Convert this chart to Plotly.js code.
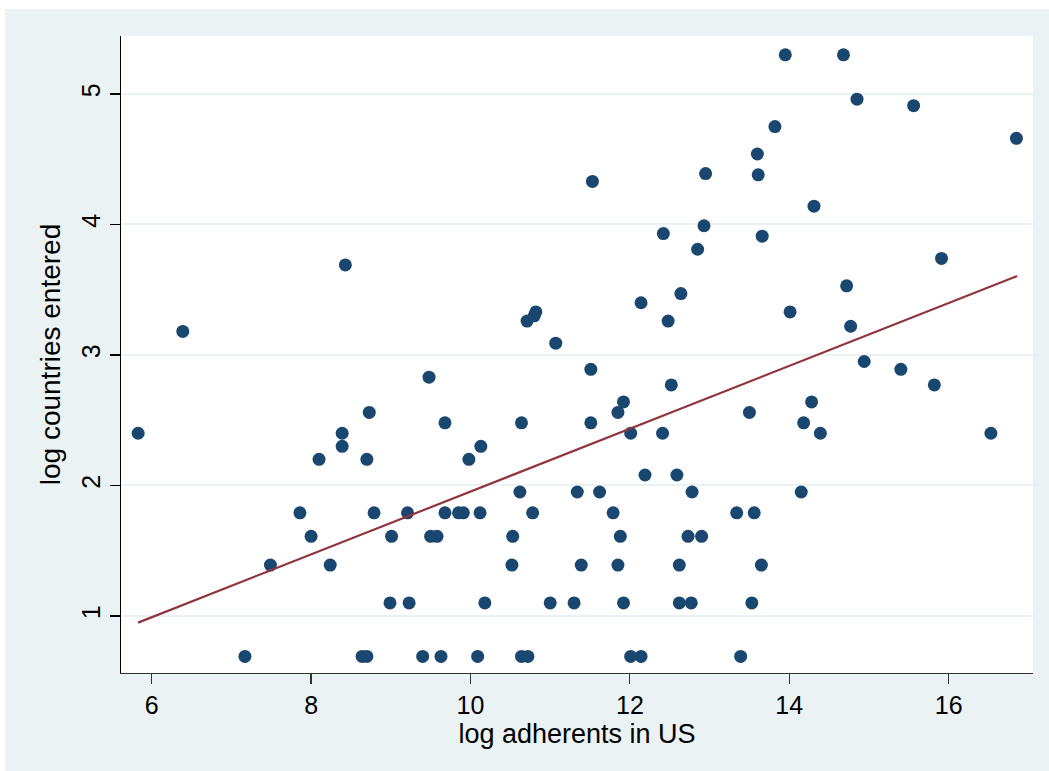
<!DOCTYPE html>
<html>
<head>
<meta charset="utf-8">
<script src="https://cdn.plot.ly/plotly-3.0.1.min.js"></script>
<style>
  html, body { margin: 0; padding: 0; background: #ffffff; width: 1049px; height: 771px; overflow: hidden; }
  #chart { position: absolute; left: 5px; top: 9px; width: 1044px; height: 762px; }
</style>
</head>
<body>
<div id="chart"></div>
<script>
// log adherents in US
const adherentsLog = [
  5.83, 6.39, 7.17, 7.49, 7.86, 8.00, 8.10, 8.24, 8.39, 8.39,
  8.43, 8.64, 8.70, 8.70, 8.73, 8.79, 8.99, 9.01, 9.21, 9.23,
  9.40, 9.48, 9.50, 9.58, 9.63, 9.68, 9.68, 9.85, 9.91, 9.98,
  10.09, 10.12, 10.13, 10.18, 10.52, 10.53, 10.62, 10.64, 10.64, 10.72,
  10.71, 10.78, 10.80, 10.82, 11.00, 11.07, 11.30, 11.34, 11.39, 11.51,
  11.51, 11.53, 11.62, 11.79, 11.85, 11.85, 11.88, 11.92, 11.92, 12.01,
  12.01, 12.14, 12.14, 12.19, 12.41, 12.42, 12.48, 12.52, 12.59, 12.62,
  12.62, 12.64, 12.73, 12.77, 12.78, 12.85, 12.90, 12.93, 12.95, 13.34,
  13.39, 13.50, 13.53, 13.56, 13.60, 13.61, 13.65, 13.66, 13.82, 13.95,
  14.01, 14.15, 14.18, 14.28, 14.31, 14.39, 14.68, 14.72, 14.77, 14.85,
  14.94, 15.40, 15.56, 15.82, 15.91, 16.53, 16.85
];
// log countries entered
const countriesLog = [
  2.40, 3.18, 0.69, 1.39, 1.79, 1.61, 2.20, 1.39, 2.40, 2.30,
  3.69, 0.69, 0.69, 2.20, 2.56, 1.79, 1.10, 1.61, 1.79, 1.10,
  0.69, 2.83, 1.61, 1.61, 0.69, 2.48, 1.79, 1.79, 1.79, 2.20,
  0.69, 1.79, 2.30, 1.10, 1.39, 1.61, 1.95, 2.48, 0.69, 0.69,
  3.26, 1.79, 3.30, 3.33, 1.10, 3.09, 1.10, 1.95, 1.39, 2.89,
  2.48, 4.33, 1.95, 1.79, 2.56, 1.39, 1.61, 2.64, 1.10, 2.40,
  0.69, 0.69, 3.40, 2.08, 2.40, 3.93, 3.26, 2.77, 2.08, 1.39,
  1.10, 3.47, 1.61, 1.10, 1.95, 3.81, 1.61, 3.99, 4.39, 1.79,
  0.69, 2.56, 1.10, 1.79, 4.54, 4.38, 1.39, 3.91, 4.75, 5.30,
  3.33, 1.95, 2.48, 2.64, 4.14, 2.40, 5.30, 3.53, 3.22, 4.96,
  2.95, 2.89, 4.91, 2.77, 3.74, 2.40, 4.66
];
// fitted line end points
const fitX = [5.83, 16.86];
const fitY = [0.949, 3.605];

const xTicks = [6, 8, 10, 12, 14, 16];
const yTicks = [1, 2, 3, 4, 5];

const FONT = '"Liberation Sans", Arial, Helvetica, sans-serif';

const traces = [
  {
    type: 'scatter', mode: 'markers',
    x: adherentsLog, y: countriesLog,
    marker: { color: '#1a476f', size: 13, line: { width: 0 } },
    hoverinfo: 'x+y', showlegend: false
  },
  {
    type: 'scatter', mode: 'lines',
    x: fitX, y: fitY,
    line: { color: '#90353b', width: 2.2 },
    hoverinfo: 'none', showlegend: false
  }
];

const layout = {
  width: 1044, height: 762,
  paper_bgcolor: '#eaf2f3',
  plot_bgcolor: '#ffffff',
  margin: { l: 116, r: 16, t: 27, b: 98 },
  showlegend: false,
  font: { family: FONT, color: '#000000' },
  xaxis: {
    range: [5.615, 17.058],
    tickvals: xTicks,
    ticktext: xTicks.map(String),
    ticks: 'outside', ticklen: 10, tickwidth: 1.2, tickcolor: '#333333',
    showline: true, linecolor: '#333333', linewidth: 1.3,
    showgrid: false, zeroline: false,
    tickfont: { size: 25, family: FONT, color: '#000000' },
    title: { text: 'log adherents in US', font: { size: 27, family: FONT, color: '#000000' }, standoff: 2 },
    automargin: false
  },
  yaxis: {
    range: [0.563, 5.444],
    tickvals: yTicks,
    ticktext: yTicks.map(String),
    tickangle: -90,
    ticks: 'outside', ticklen: 10, tickwidth: 1.2, tickcolor: '#000000',
    showline: true, linecolor: '#000000', linewidth: 1.3,
    showgrid: true, gridcolor: '#eaf2f3', gridwidth: 2,
    zeroline: false,
    tickfont: { size: 25, family: FONT, color: '#000000' },
    title: { text: 'log countries entered', font: { size: 28, family: FONT, color: '#000000' }, standoff: 8 },
    automargin: false
  }
};

Plotly.newPlot('chart', traces, layout, { displayModeBar: false, staticPlot: true });
</script>
</body>
</html>
